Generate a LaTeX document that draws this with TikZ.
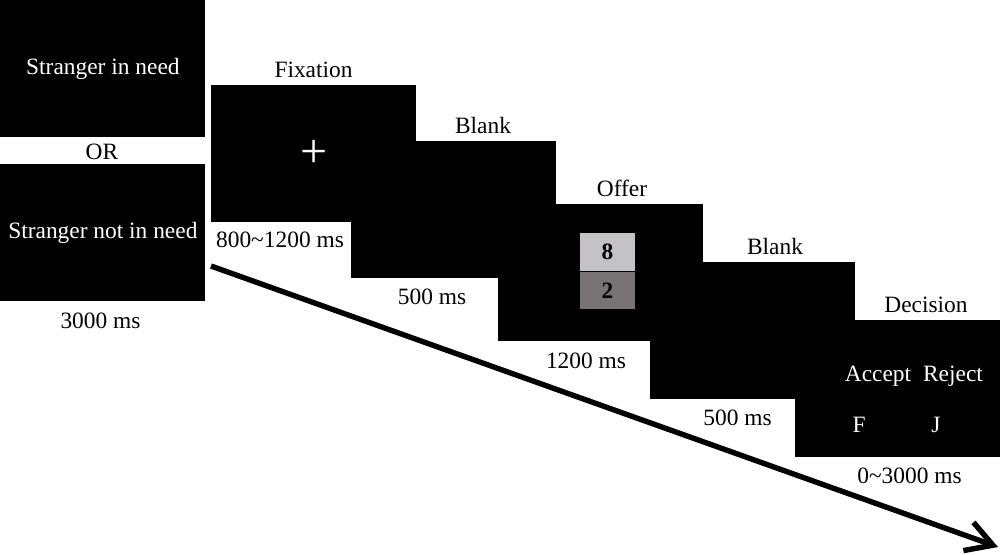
\documentclass[tikz,border=0pt]{standalone}
\usepackage{fontspec}
\setmainfont{Liberation Serif}
\usetikzlibrary{arrows.meta,positioning}

\definecolor{hicell}{HTML}{C4C2C4}
\definecolor{locell}{HTML}{777274}

\begin{document}
\begin{tikzpicture} [x=0.5pt, y=-0.5pt,
			      font=\fontsize{11.7}{14}\selectfont,
			      screen/.style={fill=black, text=white, inner sep=0pt, anchor=north west,
			                     minimum width=102.5pt, minimum height=68.5pt},
			      caption/.style={inner sep=0pt, anchor=base},
			      cell/.style={inner sep=0pt, minimum width=27.5pt, minimum height=18.75pt, font=\fontsize{11.7}{14}\selectfont\bfseries},
			      timeline/.style={line width=2.7pt, -{Straight Barb[length=13pt, width=15pt, line width=2.7pt]}}]
    \useasboundingbox (0,0) rectangle (1000,554);
    % screens
    \node[screen] (need) at (0,0) {Stranger in need};
    \node[screen] (noneed) at (0,164) {Stranger not in need};
    \node[screen] (fix) at (211,85) {\fontsize{24}{24}\selectfont +};
    \node[screen] (blank1) at (351,141) {};
    \node[screen] (offer) at (498,204) {};
    \node[screen] (blank2) at (650,262) {};
    \node[screen] (dec) at (795,320) {};
    % offer
    \node[cell, fill=hicell] (hi) at (607.5,252) {8};
    \node[cell, fill=locell, below=0pt of hi] (lo) {2};
    % decision
    \node[caption, text=white] (acc) at (878,381) {Accept};
    \node[caption, text=white] (rej) at (953,381) {Reject};
    \node[caption, text=white] (keyf) at (859,432) {F};
    \node[caption, text=white] (keyj) at (936,432) {J};
    % titles
    \node[caption] (or) at (102,159) {OR};
    \node[caption] (fixname) at (313.5,77) {Fixation};
    \node[caption] (blank1name) at (483,133) {Blank};
    \node[caption] (offername) at (622,196) {Offer};
    \node[caption] (blank2name) at (775,254) {Blank};
    \node[caption] (decname) at (926,312) {Decision};
    % durations
    \node[caption] (cuet) at (100.5,328) {3000 ms};
    \node[caption] (fixt) at (280,247) {800\textasciitilde1200 ms};
    \node[caption] (blank1t) at (432,304) {500 ms};
    \node[caption] (offert) at (586,368) {1200 ms};
    \node[caption] (blank2t) at (737.5,425) {500 ms};
    \node[caption] (dect) at (909.5,483) {0\textasciitilde3000 ms};
    % time
    \coordinate (tstart) at (211,266);
    \coordinate (tend) at (998,547);
    \draw[timeline] (tstart) -- (tend);
\end{tikzpicture}
\end{document}
